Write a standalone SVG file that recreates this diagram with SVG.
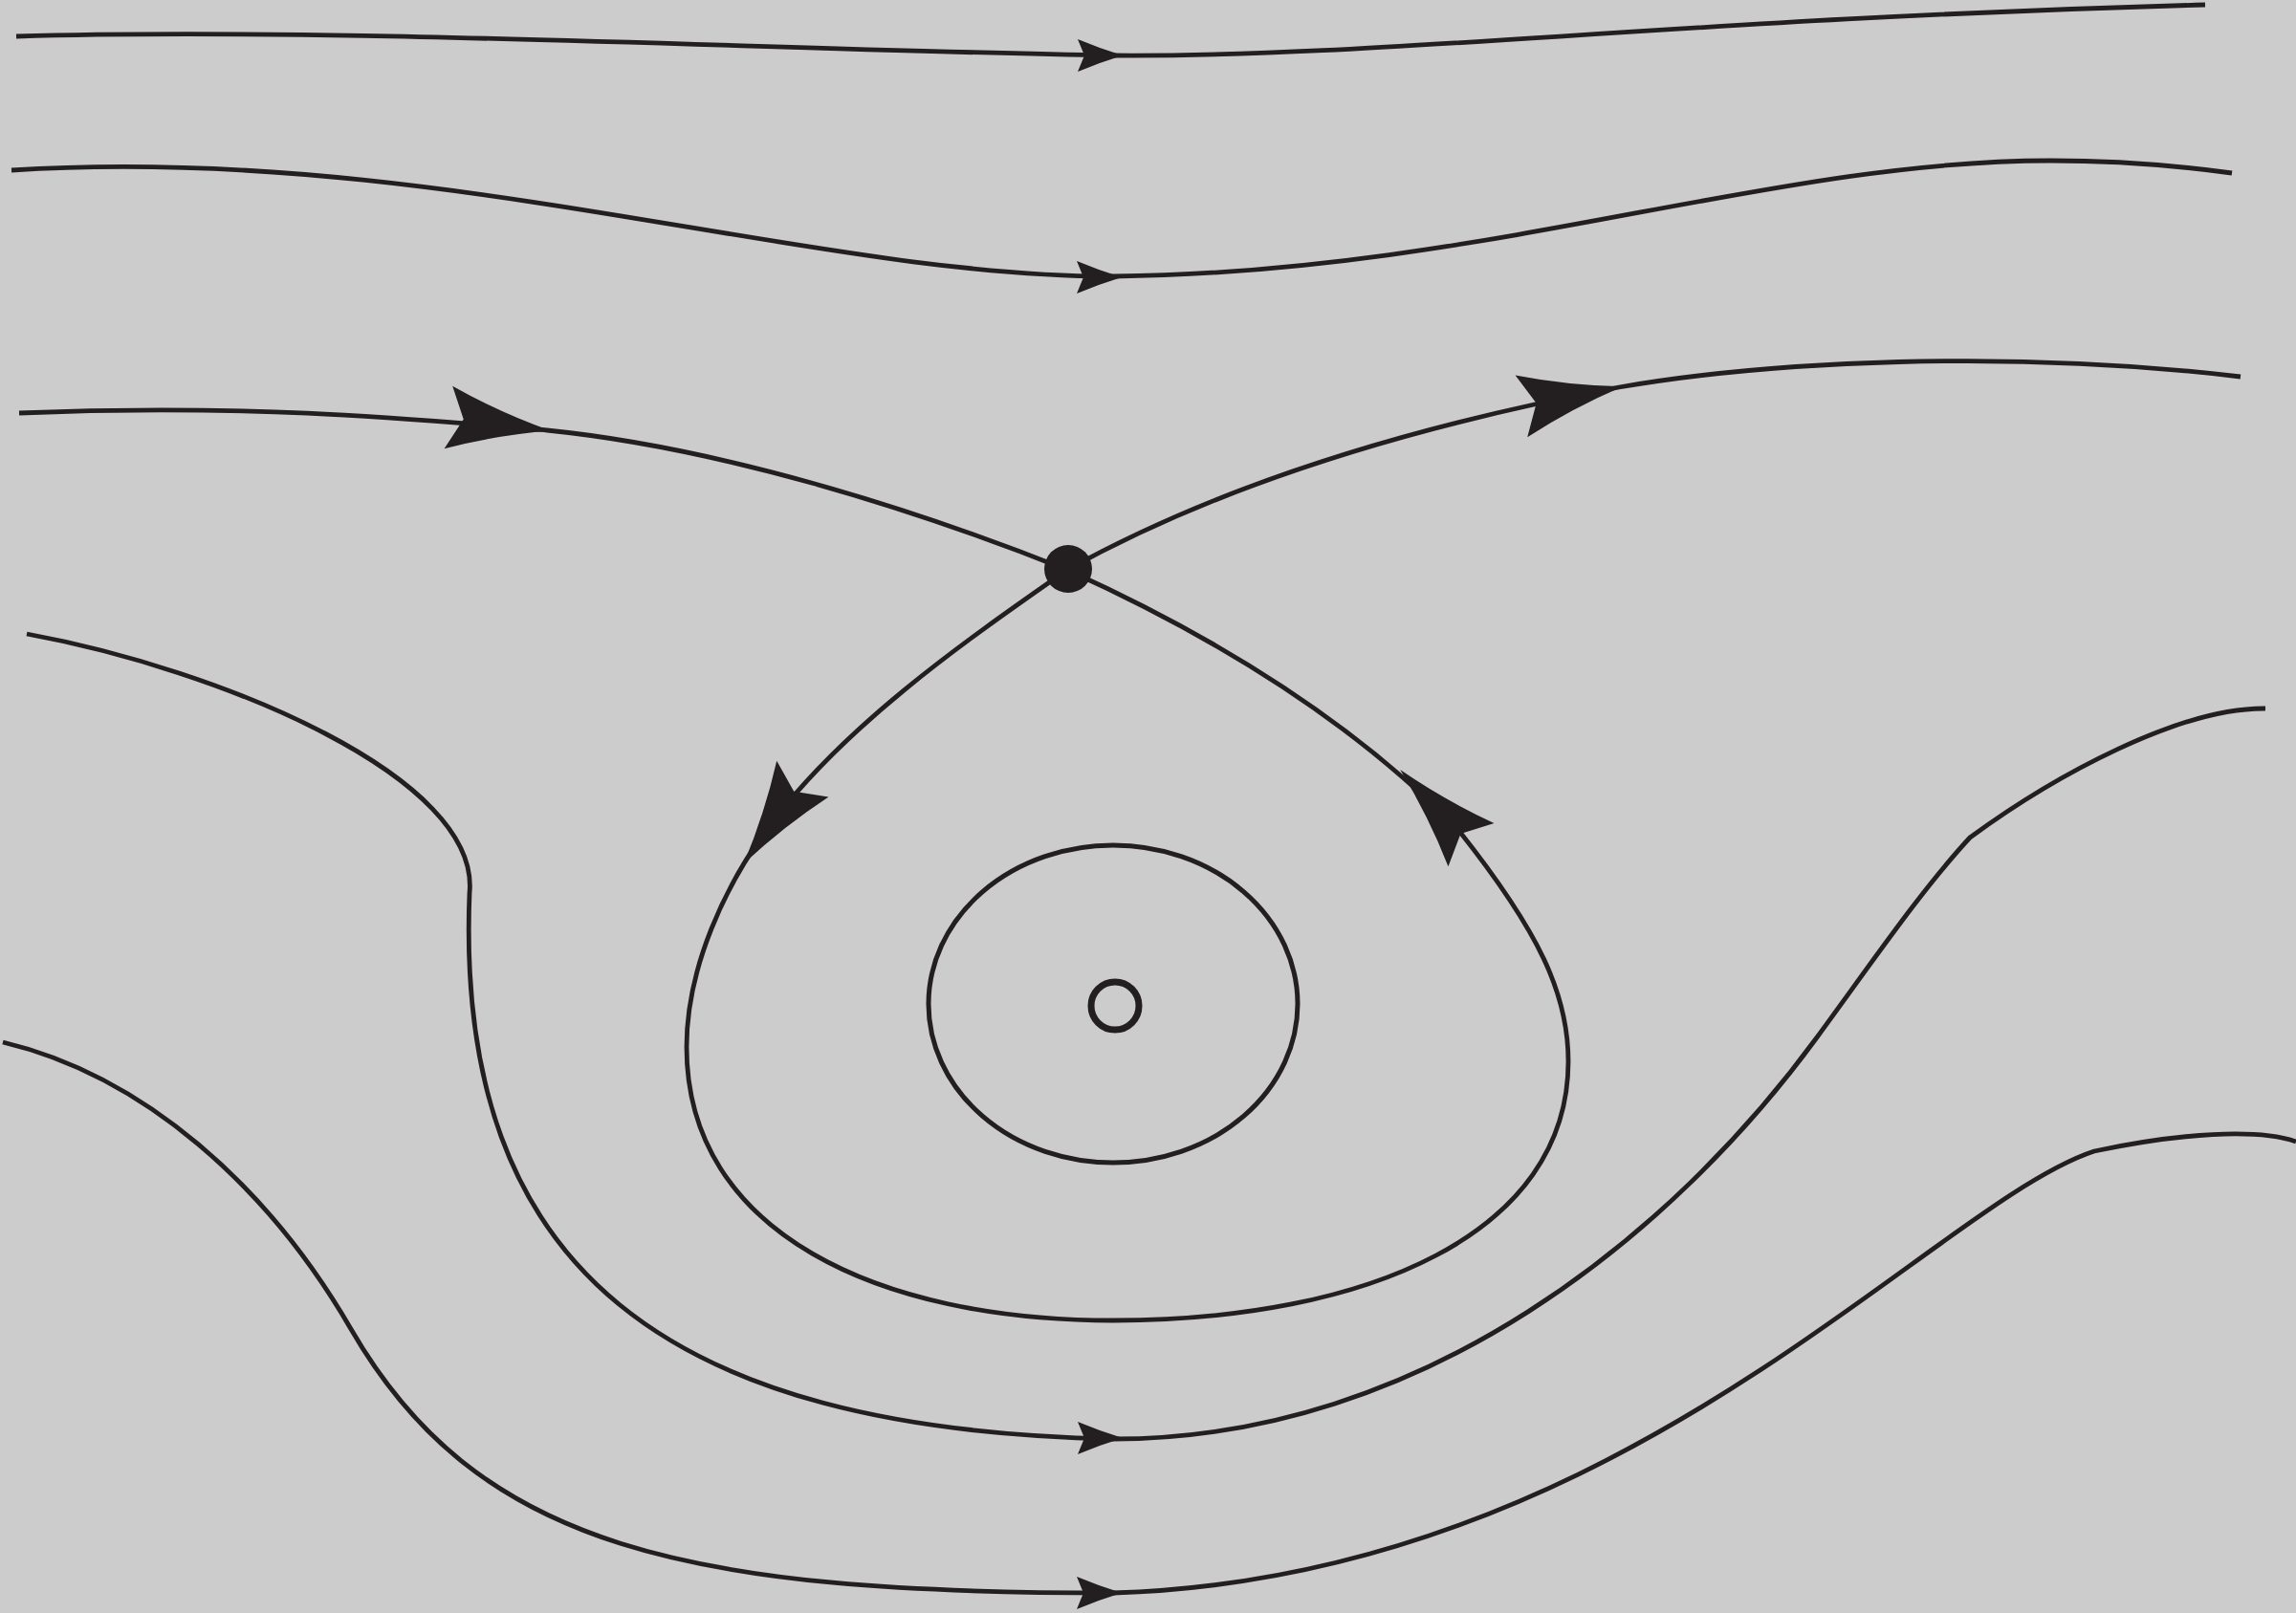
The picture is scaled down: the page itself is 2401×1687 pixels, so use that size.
<svg xmlns="http://www.w3.org/2000/svg" xmlns:xlink="http://www.w3.org/1999/xlink" width="2401" height="1687" viewBox="0 0 2401 1687">
<style>
.bg{fill:#cccccc}
.ln{fill:none;stroke:#231f20;stroke-width:4.8;stroke-linecap:butt}
.ah{fill:#231f20;stroke:none}
</style>
<defs>
<path id="arrS" class="ah" d="M1,0 Q-22,-7 -46,-17 L-39,0 L-46,17 Q-22,7 1,0 Z"/>
<path id="arrL" class="ah" d="M4,0 Q-52,-12 -104,-33 L-88,0 L-104,33 Q-52,12 4,0 Z"/>
</defs>
<rect class="bg" x="0" y="0" width="2401" height="1687"/>
<g id="connectors">
<path id="curve1" class="ln" d="M17,38 C350,28 800,52 1164,58 C1450,60 1750,20 2306,5"/>
<path id="curve2" class="ln" d="M12,178 C450,150 850,290 1164,289 C1550,285 1850,168 2144,168 C2230,168 2290,175 2334,181"/>
<path id="curve3" class="ln" d="M20,432 C250,422 420,437 572,450 C750,468 950,530 1116,596"/>
<path id="curve4" class="ln" d="M1116,596 C1280,505 1480,445 1693,405 C1850,378 2100,365 2343,394"/>
<path id="loop" class="ln" d="M1116,596 C1010,670 880,760 800,870 C760,925 718,1010 718,1095 C718,1290 920,1381 1164,1381 C1430,1381 1640,1290 1640,1110 C1640,1040 1610,975 1525,868 C1420,760 1280,670 1116,596"/>
<path id="curve6" class="ln" d="M28,663 C230,700 503,813 491,934 C475,1330 700,1495 1164,1505 C1490,1505 1750,1290 1900,1085 C1960,1003 2010,930 2060,876 C2150,810 2280,740 2369,741"/>
<path id="curve7" class="ln" d="M3,1090 C150,1125 280,1240 367,1390 C500,1620 720,1666 1164,1666 C1700,1650 2020,1260 2190,1204 C2280,1185 2360,1180 2401,1194"/>
<use xlink:href="#arrS" transform="translate(1173,58)"/>
<use xlink:href="#arrS" transform="translate(1172,290)"/>
<use xlink:href="#arrS" transform="translate(1173,1504)"/>
<use xlink:href="#arrS" transform="translate(1172,1666)"/>
<use xlink:href="#arrL" transform="translate(572,450) rotate(7.5)"/>
<use xlink:href="#arrL" transform="translate(1693,405) rotate(-11)"/>
<use xlink:href="#arrL" transform="translate(780,900) rotate(124.8)"/>
<use xlink:href="#arrL" transform="translate(1467,808) rotate(-133.4)"/>
</g>
<g id="saddle">
<circle cx="1117" cy="595" r="25" fill="#231f20"/>
</g>
<g id="orbit">
<ellipse cx="1164" cy="1050" rx="193" ry="166" fill="none" stroke="#231f20" stroke-width="5"/>
</g>
<g id="center">
<circle cx="1166" cy="1052" r="25" fill="none" stroke="#231f20" stroke-width="7"/>
</g>
</svg>
